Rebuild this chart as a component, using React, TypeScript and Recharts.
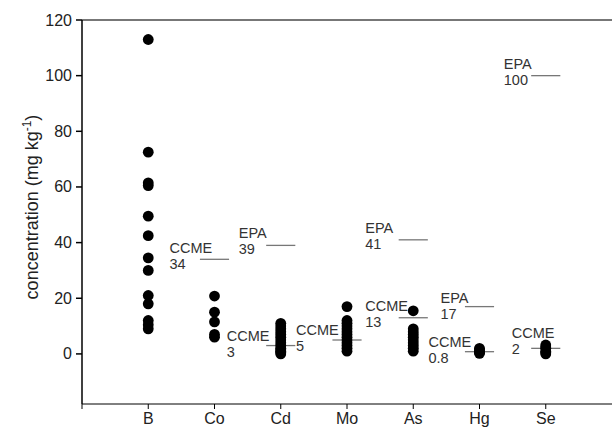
import React from 'react';
import { ScatterChart, Scatter, XAxis, YAxis, ReferenceLine } from 'recharts';

const elements = ['B', 'Co', 'Cd', 'Mo', 'As', 'Hg', 'Se'];

// measured concentrations (mg/kg), one list per element
const boron = [113, 72.5, 61.5, 60.5, 49.5, 42.5, 34.5, 30, 21, 18, 12, 10.5, 9];
const cobalt = [20.8, 15, 11.5, 7, 6];
const cadmium = [11, 10, 9, 8, 7, 6, 5, 4, 3, 2, 1.5, 1, 0.5, 0];
const molybdenum = [17, 12, 11, 10, 9, 8, 7, 6, 5, 4, 3, 2, 1];
const arsenic = [15.5, 9, 8, 7, 6, 5, 4, 3, 2, 1];
const mercury = [2, 1.5, 1, 0.5, 0.2];
const selenium = [3.2, 2.5, 2, 1, 0.5, 0];

const seriesValues = [boron, cobalt, cadmium, molybdenum, arsenic, mercury, selenium];

// guideline limits
const limitElement = ['Co', 'Cd', 'Cd', 'Mo', 'As', 'As', 'Hg', 'Hg', 'Se', 'Se'];
const limitAgency = ['CCME', 'EPA', 'CCME', 'CCME', 'CCME', 'EPA', 'EPA', 'CCME', 'CCME', 'EPA'];
const limitValue = [34, 39, 3, 5, 13, 41, 17, 0.8, 2, 100];

// label placement (px, relative to element position / limit line)
const labelDx = [-45, -42, -54, -51, -48, -48, -39, -51, -34, -42];
const labelDy = [-6, -7, -5, -5, -7, -7, -4, -5, -10, -7];

const yTicks = [0, 20, 40, 60, 80, 100, 120];
const xTicks = [0, 1, 2, 3, 4, 5, 6, 7];

const FONT = '"Liberation Sans", Arial, sans-serif';
const HALF = 0.22;

const Dot = (props: any) => <circle cx={props.cx} cy={props.cy} r={5.4} fill="#000" />;

const makeLimitShape = (i: number) => (props: any) => {
  const { x1, y1, x2, y2 } = props;
  const cx = (x1 + x2) / 2;
  const tx = cx + labelDx[i];
  const ty = y1 + labelDy[i];
  return (
    <g>
      <line x1={x1} y1={y1} x2={x2} y2={y2} stroke="#777" strokeWidth={1.3} />
      <text x={tx} y={ty} fontSize={14.5} fontFamily={FONT} fill="#333">
        <tspan x={tx}>{limitAgency[i]}</tspan>
        <tspan x={tx} dy={16}>{String(limitValue[i])}</tspan>
      </text>
    </g>
  );
};

const YTick = (props: any) => {
  const { x, y, payload } = props;
  return (
    <text x={x} y={y} dy={5.5} textAnchor="end" fontSize={16} fontFamily={FONT} fill="#222">
      {payload.value}
    </text>
  );
};

const XTick = (props: any) => {
  const { x, y, payload } = props;
  const v = payload.value;
  return (
    <text x={x} y={y} dy={13} textAnchor="middle" fontSize={16} fontFamily={FONT} fill="#222">
      {v === 0 ? '' : elements[v - 1]}
    </text>
  );
};

const YLabel = () => (
  <text
    x={0}
    y={0}
    transform="translate(38, 207) rotate(-90)"
    textAnchor="middle"
    fontSize={18}
    fontFamily={FONT}
    fill="#222"
  >
    concentration (mg kg
    <tspan fontSize={12} dy={-7}>-1</tspan>
    <tspan dy={7}>)</tspan>
  </text>
);

export default function App() {
  return (
    <div style={{ position: 'absolute', left: 0, top: 0, background: '#fff' }}>
      <ScatterChart width={612} height={430} margin={{ top: 20, right: 0, bottom: 0, left: 0 }}>
        <XAxis
          type="number"
          dataKey="x"
          domain={[0, 8]}
          ticks={xTicks}
          height={26}
          tickSize={5}
          tickMargin={2}
          stroke="#000"
          tick={<XTick />}
          allowDataOverflow
        />
        <YAxis
          type="number"
          dataKey="y"
          domain={[-18, 120]}
          ticks={yTicks}
          width={82}
          tickSize={6}
          tickMargin={4}
          stroke="#000"
          strokeWidth={1.5}
          tick={<YTick />}
          label={<YLabel />}
          allowDataOverflow
        />
        <ReferenceLine y={120} stroke="#777" strokeWidth={2} ifOverflow="extendDomain" />
        {elements.map((el, k) => (
          <Scatter
            key={el}
            name={el}
            data={seriesValues[k].map((v) => ({ x: k + 1, y: v }))}
            shape={Dot}
            isAnimationActive={false}
          />
        ))}
        {limitValue.map((v, i) => {
          const xi = elements.indexOf(limitElement[i]) + 1;
          return (
            <ReferenceLine
              key={i}
              segment={[
                { x: xi - HALF, y: v },
                { x: xi + HALF, y: v },
              ]}
              shape={makeLimitShape(i)}
            />
          );
        })}
      </ScatterChart>
    </div>
  );
}
